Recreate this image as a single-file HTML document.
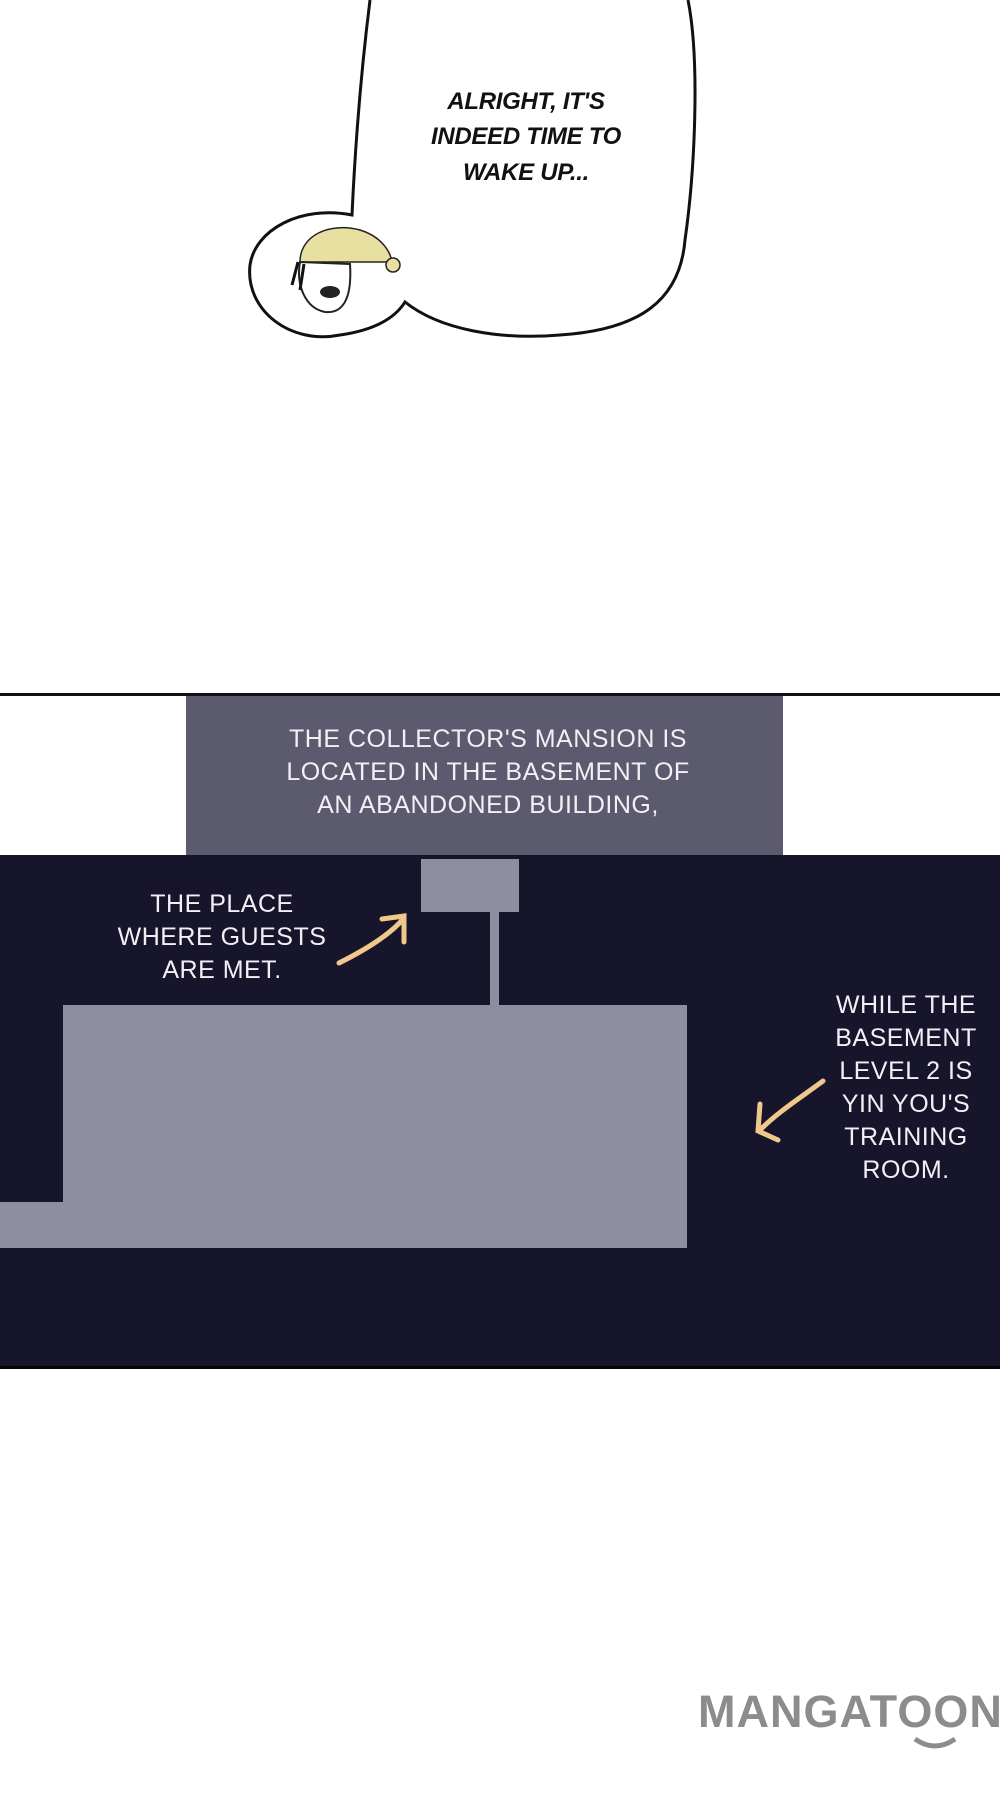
<!DOCTYPE html>
<html><head><meta charset="utf-8"><style>
html,body{margin:0;padding:0}
body{width:1000px;height:1800px;position:relative;background:#fff;overflow:hidden;font-family:"Liberation Sans",sans-serif}
.a{position:absolute}
.t{position:absolute;color:#f2f0f4;font-size:25px;text-align:center;line-height:33px;letter-spacing:0.5px}
</style></head><body>
<svg class="a" style="left:0;top:0" width="1000" height="420">
<path d="M370,0 C360,80 355,150 352,215 C300,205 255,230 250,265 C245,310 290,345 340,335 C375,330 395,318 405,302 C440,330 500,340 560,335 C640,330 680,300 685,240 C695,170 700,60 688,0" fill="#fff" stroke="#111" stroke-width="3"/>
<g>
<path d="M300,262 C300,235 330,222 360,230 C380,236 390,250 392,262 Z" fill="#e8e0a0" stroke="#222" stroke-width="1.5"/>
<circle cx="393" cy="265" r="7" fill="#e8e0a0" stroke="#222" stroke-width="1.5"/>
<path d="M300,262 C296,285 305,308 325,312 C345,314 352,295 350,264 Z" fill="#fff" stroke="#222" stroke-width="2"/>
<path d="M298,262 L292,285 M304,264 L300,290" stroke="#111" stroke-width="3"/>
<ellipse cx="330" cy="292" rx="10" ry="6" fill="#222"/>
</g>
<g font-family="Liberation Sans,sans-serif" font-style="italic" font-weight="bold" font-size="24" fill="#111" text-anchor="middle" letter-spacing="-0.3">
<text x="526" y="109">ALRIGHT, IT'S</text>
<text x="526" y="144">INDEED TIME TO</text>
<text x="526" y="180">WAKE UP...</text>
</g>
</svg>

<div class="a" style="left:0;top:693px;width:1000px;height:3px;background:#111"></div>
<div class="a" style="left:186px;top:696px;width:597px;height:159px;background:#5c5a6e"></div>
<div class="a" style="left:0;top:855px;width:1000px;height:511px;background:#16152c;border-bottom:3px solid #050505"></div>
<div class="a" style="left:421px;top:859px;width:98px;height:53px;background:#8f8da0"></div>
<div class="a" style="left:490px;top:912px;width:9px;height:93px;background:#8f8da0"></div>
<div class="a" style="left:63px;top:1005px;width:624px;height:243px;background:#8f8da0"></div>
<div class="a" style="left:0;top:1202px;width:63px;height:46px;background:#8f8da0"></div>

<div class="t" style="left:188px;top:723px;width:600px">THE COLLECTOR'S MANSION IS<br>LOCATED IN THE BASEMENT OF<br>AN ABANDONED BUILDING,</div>
<div class="t" style="left:92px;top:888px;width:260px">THE PLACE<br>WHERE GUESTS<br>ARE MET.</div>
<div class="t" style="left:806px;top:989px;width:200px">WHILE THE<br>BASEMENT<br>LEVEL 2 IS<br>YIN YOU'S<br>TRAINING<br>ROOM.</div>

<svg class="a" style="left:0;top:0" width="1000" height="1800">
<path d="M339,963 C365,950 390,935 404,918 M382,919 L404,916 L404,942" fill="none" stroke="#f0c88a" stroke-width="5" stroke-linecap="round"/>
<path d="M823,1081 C800,1098 778,1112 760,1130 M760,1104 L758,1131 L778,1140" fill="none" stroke="#f0c88a" stroke-width="5" stroke-linecap="round"/>
</svg>

<div class="a" style="left:698px;top:1686px;font-size:45px;font-weight:bold;color:#8c8c8c;letter-spacing:1px">MANGATOON</div>
<svg class="a" style="left:910px;top:1735px" width="50" height="20"><path d="M5,4 Q25,18 45,4" fill="none" stroke="#8c8c8c" stroke-width="5"/></svg>
</body></html>
